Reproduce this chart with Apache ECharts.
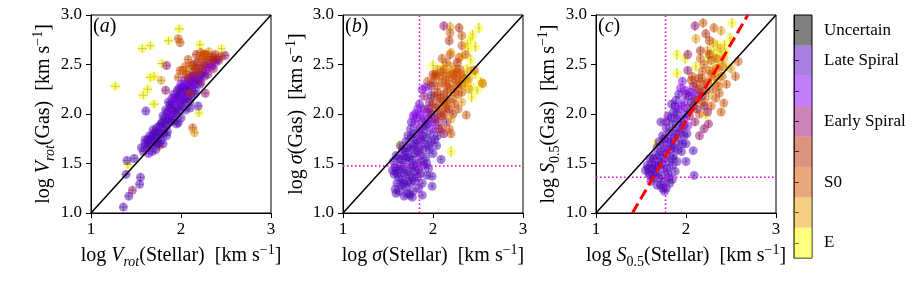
<!DOCTYPE html>
<html><head><meta charset="utf-8">
<script src="https://cdn.jsdelivr.net/npm/echarts@6/dist/echarts.min.js"></script>
<style>html,body{margin:0;padding:0;background:#fff}#c{width:913px;height:305px}</style>
</head><body><div id="c"></div>
<script>
// ---------- data ----------
const categories = ['E', '', 'S0', '', 'Early Spiral', '', 'Late Spiral', 'Uncertain'];
const baseColors = ['#fdfd01', '#eb9f09', '#d55100', '#b92901', '#990971', '#8100f1', '#5101c1', '#010101'];
const xTicks = [1, 2, 3];
const yTicks = [1.0, 1.5, 2.0, 2.5, 3.0];
const panelLabels = ['a', 'b', 'c'];
const vLineB = 1.85, hLineB = 1.475;
const vLineC = 1.773, hLineC = 1.36;
const fitLineC = [[1.405, 1.0], [2.687, 3.0]];
const oneToOne = [[1, 1], [3, 3]];

// [x, y, xerr, yerr, type]
const panelA = [
[1.98,2.86,.05,.04,0],[1.86,2.74,.05,.04,0],[1.57,2.66,.05,.04,0],[1.66,2.69,.05,.04,0],[2.21,2.70,.04,.04,0],[2.45,2.66,.04,.04,0],[1.79,2.51,.05,.04,0],[1.66,2.37,.05,.04,0],[1.70,2.38,.04,.04,0],[1.58,2.19,.05,.04,0],[1.63,2.25,.05,.04,0],[1.70,2.10,.05,.04,0],[1.27,2.28,.05,.04,0],[2.20,2.01,.04,.04,0],[1.41,1.49,.04,.04,0],[2.13,2.46,.04,.04,0],
[1.97,2.76,.04,.04,2],[1.99,2.72,.04,.04,2],[2.31,2.63,.04,.04,1],[2.17,2.60,.04,.04,3],[2.08,2.55,.04,.04,2],[1.99,2.44,.04,.04,2],[1.97,2.37,.04,.04,2],[1.78,2.34,.04,.04,1],[2.13,1.86,.04,.04,2],[2.15,1.81,.04,.04,1],[1.76,1.68,.04,.04,2],[2.27,2.55,.04,.04,1],[2.35,2.58,.04,.04,2],[2.05,2.48,.04,.04,2],[2.22,2.62,.04,.04,2],[2.26,2.60,.04,.04,3],[2.11,2.49,.04,.04,2],[2.06,2.43,.04,.04,1],
[1.84,2.49,.04,.04,4],[1.83,2.24,.04,.04,4],[2.49,2.59,.04,.04,4],[2.27,2.21,.04,.04,4],[1.46,1.23,.04,.04,4],
[1.36,1.06,.04,.04,6],[1.42,1.17,.04,.04,6],[1.54,1.29,.04,.04,6],[1.55,1.36,.04,.04,6],[1.39,1.39,.04,.04,6],[1.40,1.53,.04,.04,6],[1.48,1.55,.04,.04,6],[1.61,2.03,.04,.04,6],[2.19,2.08,.04,.04,6],[2.10,2.06,.03,.03,6],[1.97,1.91,.03,.03,6],
[1.56,1.66,.03,.03,6],[1.58,1.62,.03,.03,6],[1.60,1.70,.03,.03,6],[1.63,1.74,.03,.03,6],[1.66,1.68,.03,.03,6],[1.65,1.78,.03,.03,6],[1.68,1.78,.03,.03,6],[1.70,1.72,.03,.03,6],[1.70,1.80,.03,.03,6],[1.72,1.82,.03,.03,6],[1.74,1.76,.03,.03,6],[1.75,1.70,.03,.03,6],[1.76,1.88,.03,.03,6],[1.77,1.80,.03,.03,6],[1.79,1.92,.03,.03,6],[1.80,1.98,.03,.03,6],[1.81,1.84,.03,.03,6],[1.82,1.96,.03,.03,6],[1.84,1.88,.03,.03,6],[1.84,1.78,.03,.03,6],[1.85,2.02,.03,.03,6],[1.86,2.12,.03,.03,6],[1.87,1.94,.03,.03,6],[1.88,2.06,.03,.03,6],[1.90,1.98,.03,.03,6],[1.91,2.10,.03,.03,6],[1.92,2.20,.03,.03,6],[1.93,2.02,.03,.03,6],[1.94,2.14,.03,.03,6],[1.95,1.90,.03,.03,6],[1.96,2.06,.03,.03,6],[1.97,2.18,.03,.03,6],[1.98,2.26,.03,.03,6],[1.99,2.10,.03,.03,6],[2.00,2.22,.03,.03,6],[2.00,1.96,.03,.03,6],[2.02,2.14,.03,.03,6],[2.03,2.26,.03,.03,6],[2.05,2.18,.03,.03,6],[2.05,2.04,.03,.03,6],[2.06,2.30,.03,.03,6],[2.08,2.22,.03,.03,6],[2.10,2.34,.03,.03,6],[2.10,2.12,.03,.03,6],[2.12,2.26,.03,.03,6],[2.14,2.38,.03,.03,6],[2.15,2.20,.03,.03,6],[2.16,2.30,.03,.03,6],[2.20,2.36,.03,.03,6],[2.24,2.42,.03,.03,6],
[1.60,1.74,.03,.03,6],[1.62,1.66,.03,.03,6],[1.64,1.70,.03,.03,6],[1.67,1.74,.03,.03,6],[1.69,1.84,.03,.03,6],[1.71,1.76,.03,.03,6],[1.73,1.86,.03,.03,6],[1.73,1.70,.03,.03,6],[1.76,1.82,.03,.03,6],[1.78,1.74,.03,.03,6],[1.78,1.90,.03,.03,6],[1.80,1.80,.03,.03,6],[1.82,1.90,.03,.03,6],[1.83,2.04,.03,.03,6],[1.85,1.82,.03,.03,6],[1.86,1.96,.03,.03,6],[1.88,2.10,.03,.03,6],[1.89,1.92,.03,.03,6],[1.91,2.04,.03,.03,6],[1.92,1.94,.03,.03,6],[1.93,2.16,.03,.03,6],[1.95,2.00,.03,.03,6],[1.96,2.24,.03,.03,6],[1.98,2.04,.03,.03,6],[1.99,2.18,.03,.03,6],[2.01,2.08,.03,.03,6],[2.02,2.28,.03,.03,6],[2.04,2.12,.03,.03,6],[2.06,2.24,.03,.03,6],[2.07,2.16,.03,.03,6],[2.09,2.28,.03,.03,6],[2.11,2.18,.03,.03,6],[2.13,2.32,.03,.03,6],[2.16,2.24,.03,.03,6],[2.18,2.34,.03,.03,6],[2.21,2.30,.03,.03,6],[2.22,2.40,.03,.03,6],[2.26,2.38,.03,.03,6],[1.72,1.64,.03,.03,6],[1.80,1.70,.03,.03,6],[1.68,1.62,.03,.03,6],
[1.88,2.00,.03,.03,5],[1.90,2.16,.03,.03,5],[1.96,2.12,.03,.03,5],[2.00,2.30,.03,.03,5],[2.04,2.20,.03,.03,5],[2.12,2.30,.03,.03,5],[2.18,2.38,.03,.03,5],[2.28,2.44,.03,.03,5],[2.32,2.50,.03,.03,5],[2.38,2.52,.03,.03,5],[2.28,2.48,.03,.03,5],[2.34,2.48,.03,.03,5],[2.04,2.34,.03,.03,5],[1.64,1.60,.03,.03,5],
[2.08,2.36,.03,.03,4],[2.14,2.42,.03,.03,4],[2.20,2.46,.03,.03,4],[2.26,2.50,.03,.03,4],[2.30,2.40,.03,.03,4],[2.22,2.32,.03,.03,4],[2.36,2.46,.03,.03,4],[2.18,2.52,.03,.03,4],[2.40,2.55,.03,.03,4],[2.36,2.55,.03,.03,4],[2.42,2.54,.03,.03,4],[2.12,2.38,.03,.03,4],
[2.10,2.21,.03,.03,3],[2.16,2.46,.03,.03,3],[2.24,2.56,.03,.03,3],[2.06,2.40,.03,.03,3],[2.30,2.58,.03,.03,3],[2.44,2.58,.03,.03,3],[2.24,2.48,.03,.03,3],[2.19,2.42,.03,.03,3],[2.33,2.54,.03,.03,3],[2.14,2.50,.03,.03,3],[2.38,2.60,.03,.03,3],
[2.20,2.55,.03,.03,2],[2.28,2.60,.03,.03,2],[2.02,2.44,.03,.03,2],[2.25,2.60,.03,.03,2]
];

const panelB = [
[2.51,2.87,.015,.05,0],[2.44,2.80,.015,.05,0],[2.38,2.71,.015,.05,0],[2.42,2.76,.015,.05,0],[2.39,2.66,.015,.05,0],[2.47,2.68,.015,.05,0],[2.00,2.49,.015,.05,0],[2.11,2.47,.015,.05,0],[2.42,2.55,.015,.05,0],[2.53,2.33,.015,.04,0],[2.55,2.30,.015,.04,0],[2.43,2.17,.015,.05,0],[2.20,1.62,.015,.05,0],[1.63,1.69,.015,.04,0],[2.42,2.28,.015,.05,0],[2.36,2.28,.015,.04,0],[2.47,2.40,.015,.04,0],[2.38,2.46,.015,.04,0],[2.32,2.58,.015,.04,0],[2.49,2.24,.015,.04,0],
[2.19,2.88,.015,.05,1],[2.29,2.87,.015,.05,3],[2.19,2.82,.015,.05,2],[2.18,2.74,.015,.05,3],[2.32,2.79,.015,.05,2],[2.32,2.69,.015,.05,2],[2.29,2.57,.015,.05,2],[2.10,2.56,.015,.05,2],[2.19,2.60,.015,.05,3],[2.46,2.44,.015,.05,2],[2.55,2.31,.015,.04,2],[2.37,1.99,.015,.04,2],[2.07,2.38,.015,.04,2],[1.94,2.33,.015,.04,2],[2.23,2.41,.015,.04,3],[2.30,2.35,.015,.04,2],[2.20,2.62,.015,.04,1],[2.05,2.45,.015,.04,1],[2.12,2.89,.015,.05,4],
[1.59,1.20,.02,.03,6],[1.68,1.17,.02,.03,6],[1.77,1.16,.02,.03,6],[1.88,1.18,.02,.03,6],[1.84,1.25,.02,.03,6],[1.99,1.27,.02,.03,6],[1.99,1.37,.02,.03,6],[2.09,1.54,.02,.03,6],[1.57,1.39,.02,.03,6],[1.55,1.43,.02,.03,6],[1.74,1.18,.02,.03,6],
[1.60,1.30,.02,.03,6],[1.65,1.28,.02,.03,6],[1.70,1.26,.02,.03,6],[1.75,1.30,.02,.03,6],[1.80,1.32,.02,.03,6],[1.62,1.36,.02,.03,6],[1.68,1.40,.02,.03,6],[1.74,1.38,.02,.03,6],[1.80,1.42,.02,.03,6],[1.86,1.40,.02,.03,6],[1.58,1.46,.02,.03,6],[1.64,1.48,.02,.03,6],[1.70,1.50,.02,.03,6],[1.76,1.46,.02,.03,6],[1.82,1.50,.02,.03,6],[1.90,1.48,.02,.03,6],[1.95,1.45,.02,.03,6],[1.62,1.55,.02,.03,6],[1.68,1.58,.02,.03,6],[1.74,1.56,.02,.03,6],[1.80,1.60,.02,.03,6],[1.86,1.58,.02,.03,6],[1.92,1.56,.02,.03,6],[1.66,1.64,.02,.03,6],[1.72,1.66,.02,.03,6],[1.78,1.68,.02,.03,6],[1.84,1.66,.02,.03,6],[1.90,1.70,.02,.03,6],[1.96,1.64,.02,.03,6],[1.70,1.72,.02,.03,6],[1.76,1.76,.02,.03,6],[1.82,1.74,.02,.03,6],[1.88,1.78,.02,.03,6],[2.00,1.60,.02,.03,6],[2.04,1.68,.02,.03,6],[1.60,1.40,.02,.03,6],[1.66,1.34,.02,.03,6],[1.78,1.22,.02,.03,6],[1.72,1.20,.02,.03,6],[1.56,1.52,.02,.03,6],
[1.58,1.24,.02,.03,6],[1.63,1.22,.02,.03,6],[1.67,1.30,.02,.03,6],[1.72,1.32,.02,.03,6],[1.77,1.36,.02,.03,6],[1.83,1.36,.02,.03,6],[1.88,1.30,.02,.03,6],[1.93,1.38,.02,.03,6],[1.61,1.44,.02,.03,6],[1.66,1.44,.02,.03,6],[1.71,1.42,.02,.03,6],[1.78,1.48,.02,.03,6],[1.84,1.44,.02,.03,6],[1.87,1.52,.02,.03,6],[1.93,1.50,.02,.03,6],[1.59,1.58,.02,.03,6],[1.65,1.54,.02,.03,6],[1.71,1.56,.02,.03,6],[1.77,1.54,.02,.03,6],[1.83,1.62,.02,.03,6],[1.89,1.64,.02,.03,6],[1.95,1.68,.02,.03,6],[1.64,1.68,.02,.03,6],[1.69,1.62,.02,.03,6],[1.75,1.64,.02,.03,6],[1.80,1.70,.02,.03,6],[1.86,1.74,.02,.03,6],[1.92,1.76,.02,.03,6],[1.98,1.72,.02,.03,6],[1.72,1.78,.02,.03,6],[1.78,1.80,.02,.03,6],[1.84,1.82,.02,.03,6],[1.90,1.84,.02,.03,6],[1.97,1.80,.02,.03,6],[2.02,1.74,.02,.03,6],[1.76,1.92,.02,.03,6],[1.82,1.96,.02,.03,6],[1.88,1.92,.02,.03,6],[1.94,1.90,.02,.03,6],
[1.92,2.27,.02,.04,5],[1.88,2.25,.02,.04,5],[1.98,2.19,.02,.04,6],[1.85,2.10,.02,.04,6],[1.80,2.00,.02,.04,5],[1.90,2.05,.02,.04,6],[1.75,1.85,.02,.03,6],[1.80,1.90,.02,.03,5],[1.95,1.95,.02,.03,5],[1.85,1.85,.02,.03,5],[2.00,1.85,.02,.03,5],[2.05,1.78,.02,.03,6],[1.92,1.88,.02,.03,6],
[1.86,2.00,.02,.03,5],[1.90,1.96,.02,.03,5],[1.83,2.05,.02,.03,5],[1.96,2.02,.02,.03,5],[1.78,1.98,.02,.03,5],[2.00,1.92,.02,.03,5],
[1.95,2.05,.02,.04,4],[2.00,2.10,.02,.04,3],[2.05,2.00,.02,.04,4],[2.08,2.12,.02,.04,3],[2.12,2.00,.02,.04,3],[2.15,1.92,.02,.04,4],[2.10,1.85,.02,.04,3],[2.02,1.95,.02,.04,4],[2.18,2.05,.02,.04,3],[2.20,1.80,.02,.04,2],[2.05,2.22,.02,.04,3],[2.12,2.20,.02,.04,3],[1.98,2.28,.02,.04,4],[2.15,2.28,.02,.04,3],
[1.98,2.00,.02,.04,4],[2.03,2.06,.02,.04,3],[2.06,1.92,.02,.04,4],[2.10,1.98,.02,.04,3],[2.14,2.06,.02,.04,3],[2.08,2.16,.02,.04,3],[1.96,2.12,.02,.04,4],[2.02,2.18,.02,.04,3],[2.16,2.14,.02,.04,3],[2.22,2.00,.02,.04,3],[2.12,1.80,.02,.04,4],[2.06,1.85,.02,.04,4],[1.90,2.18,.02,.04,4],[2.00,2.32,.02,.04,3],
[2.10,2.32,.02,.04,2],[2.15,2.38,.02,.04,2],[2.20,2.25,.02,.04,2],[2.25,2.35,.02,.04,2],[2.28,2.20,.02,.04,2],[2.22,2.15,.02,.04,2],[2.32,2.30,.02,.04,2],[2.35,2.40,.02,.04,1],[2.38,2.35,.02,.04,1],[2.25,2.45,.02,.04,2],[2.18,2.42,.02,.04,1],[2.28,2.05,.02,.04,2],[2.32,2.12,.02,.04,1],[2.40,2.25,.02,.04,1],[2.15,2.10,.02,.04,2],[2.08,2.05,.02,.04,2],[2.26,2.28,.02,.04,2],[2.30,2.45,.02,.04,2],[2.12,2.45,.02,.04,2],[2.02,2.38,.02,.04,2],[2.20,1.95,.02,.04,1],[2.18,1.85,.02,.04,2],
[2.05,2.28,.02,.04,2],[2.14,2.34,.02,.04,2],[2.18,2.30,.02,.04,2],[2.22,2.36,.02,.04,2],[2.24,2.22,.02,.04,2],[2.28,2.30,.02,.04,2],[2.30,2.40,.02,.04,2],[2.34,2.36,.02,.04,2],[2.26,2.42,.02,.04,2],[2.20,2.40,.02,.04,2],[2.16,2.22,.02,.04,2],[2.12,2.12,.02,.04,2],[2.24,2.10,.02,.04,2],[2.32,2.22,.02,.04,2],[2.36,2.32,.02,.04,1],[2.40,2.36,.02,.04,1],[2.42,2.44,.02,.04,1],[2.10,2.42,.02,.04,2],[2.04,2.40,.02,.04,2],[2.20,2.48,.02,.04,1],[2.15,2.52,.02,.04,2],[2.27,2.52,.02,.04,3],[2.36,2.60,.02,.04,2],[2.00,2.40,.02,.04,3]
];

const panelC = [
[2.51,2.92,.015,.05,0],[2.49,2.77,.015,.05,0],[2.43,2.70,.015,.05,0],[1.90,2.60,.015,.05,0],[1.99,2.56,.015,.05,0],[1.90,2.41,.015,.05,0],[2.11,2.48,.015,.05,0],[2.25,2.56,.015,.05,0],[2.31,2.64,.015,.05,0],[2.22,1.99,.015,.04,0],[1.67,1.70,.015,.04,0],[2.36,2.50,.015,.04,0],[2.40,2.60,.015,.04,0],[2.30,2.45,.015,.04,0],[2.45,2.48,.015,.04,0],[2.28,2.34,.015,.04,0],[2.18,2.10,.015,.04,0],[2.33,2.58,.015,.04,0],[2.38,2.40,.015,.04,0],[2.44,2.62,.015,.04,0],[2.35,2.70,.015,.04,0],
[2.19,2.92,.015,.05,2],[2.31,2.87,.015,.05,2],[2.39,2.84,.015,.05,1],[2.11,2.76,.015,.05,1],[2.22,2.81,.015,.05,3],[2.26,2.74,.015,.05,3],[2.34,2.56,.015,.05,2],[2.40,2.48,.015,.05,2],[2.58,2.53,.015,.05,2],[2.55,2.38,.015,.05,2],[2.50,2.46,.015,.05,1],[2.39,2.02,.015,.04,2],[2.42,2.11,.015,.04,2],[2.37,2.21,.015,.04,2],[2.07,2.38,.015,.04,2],[2.18,2.43,.015,.04,2],[2.28,2.40,.015,.04,2],[2.20,2.30,.015,.04,3],[2.14,2.25,.015,.04,3],[2.30,2.25,.015,.04,2],[2.25,2.18,.015,.04,1],[2.35,2.32,.015,.04,1],[2.10,2.15,.015,.04,2],[2.05,2.05,.015,.04,2],[2.15,2.00,.015,.04,2],[2.45,2.30,.015,.04,2],[2.28,2.08,.015,.04,2],
[2.12,2.30,.015,.04,2],[2.18,2.36,.015,.04,2],[2.24,2.32,.015,.04,2],[2.26,2.44,.015,.04,2],[2.32,2.38,.015,.04,2],[2.34,2.46,.015,.04,2],[2.20,2.50,.015,.04,2],[2.28,2.54,.015,.04,2],[2.36,2.28,.015,.04,2],[2.40,2.38,.015,.04,2],[2.33,2.16,.015,.04,2],[2.20,2.12,.015,.04,2],[2.24,2.64,.015,.05,1],[2.30,2.72,.015,.05,1],[2.38,2.66,.015,.05,1],[2.42,2.56,.015,.05,1],[2.16,2.56,.015,.05,2],
[2.10,2.89,.015,.05,4],[2.02,2.60,.015,.05,4],[2.00,2.20,.015,.04,4],[2.08,2.28,.015,.04,4],[2.20,1.85,.015,.04,4],[2.25,1.90,.015,.04,4],[2.12,2.05,.015,.04,4],[2.15,1.78,.015,.04,4],
[2.04,1.98,.015,.04,4],[2.08,2.08,.015,.04,3],[2.12,2.14,.015,.04,3],[2.16,2.22,.015,.04,3],[2.06,2.34,.015,.04,3],[2.14,2.36,.015,.04,3],[2.18,2.18,.015,.04,4],[2.22,2.24,.015,.04,3],[2.10,1.92,.015,.04,4],[2.20,2.08,.015,.04,4],[2.24,2.02,.015,.04,4],[2.02,2.44,.015,.04,4],[2.26,2.60,.015,.05,3],[2.16,2.64,.015,.05,3],
[1.96,2.33,.015,.04,5],[1.92,2.20,.015,.04,6],[1.98,2.12,.015,.04,5],[2.03,2.18,.015,.04,6],[1.88,2.08,.015,.04,6],[2.08,1.63,.015,.03,6],[2.09,1.38,.015,.03,6],
[1.94,2.26,.015,.04,5],[1.99,2.24,.015,.04,5],[2.05,2.22,.015,.04,5],[1.95,2.08,.015,.04,5],[2.01,2.06,.015,.04,5],[2.06,2.12,.015,.04,6],[2.10,2.20,.015,.04,5],[1.89,2.14,.015,.04,6],[1.84,2.10,.015,.04,6],
[1.62,1.50,.015,.03,6],[1.65,1.42,.015,.03,6],[1.58,1.45,.015,.03,6],[1.60,1.55,.015,.03,6],[1.66,1.58,.015,.03,6],[1.70,1.52,.015,.03,6],[1.72,1.62,.015,.03,6],[1.68,1.66,.015,.03,6],[1.75,1.70,.015,.03,6],[1.78,1.60,.015,.03,6],[1.80,1.75,.015,.03,6],[1.74,1.78,.015,.03,6],[1.82,1.82,.015,.03,6],[1.78,1.86,.015,.03,6],[1.85,1.90,.015,.03,6],[1.88,1.80,.015,.03,6],[1.90,1.95,.015,.03,6],[1.84,1.68,.015,.03,6],[1.92,1.72,.015,.03,6],[1.86,1.58,.015,.03,6],[1.95,1.85,.015,.03,6],[1.98,1.78,.015,.03,6],[1.75,1.45,.015,.03,6],[1.80,1.40,.015,.03,6],[1.85,1.48,.015,.03,6],[1.70,1.35,.015,.03,6],[1.76,1.32,.015,.03,6],[1.82,1.30,.015,.03,6],[1.78,1.25,.015,.03,6],[1.68,1.28,.015,.03,6],[1.64,1.35,.015,.03,6],[1.90,1.52,.015,.03,6],[1.95,1.62,.015,.03,6],[2.00,1.70,.015,.03,6],[1.72,1.92,.015,.03,6],[1.80,1.98,.015,.03,6],[1.86,2.02,.015,.03,6],[1.92,2.05,.015,.03,5],[1.98,1.95,.015,.03,5],[2.02,1.88,.015,.03,5],[1.66,1.48,.015,.03,6],[1.60,1.38,.015,.03,6],[2.00,1.52,.015,.03,6],[1.88,1.42,.015,.03,6],[1.55,1.43,.015,.03,6],[1.74,1.25,.015,.03,6],
[1.57,1.48,.015,.03,6],[1.59,1.40,.015,.03,6],[1.61,1.32,.015,.03,6],[1.63,1.45,.015,.03,6],[1.64,1.55,.015,.03,6],[1.67,1.40,.015,.03,6],[1.69,1.47,.015,.03,6],[1.71,1.58,.015,.03,6],[1.73,1.38,.015,.03,6],[1.73,1.50,.015,.03,6],[1.76,1.55,.015,.03,6],[1.77,1.65,.015,.03,6],[1.79,1.45,.015,.03,6],[1.81,1.52,.015,.03,6],[1.82,1.64,.015,.03,6],[1.83,1.72,.015,.03,6],[1.85,1.55,.015,.03,6],[1.87,1.66,.015,.03,6],[1.87,1.76,.015,.03,6],[1.89,1.86,.015,.03,6],[1.91,1.64,.015,.03,6],[1.93,1.80,.015,.03,6],[1.94,1.92,.015,.03,6],[1.96,1.70,.015,.03,6],[1.97,1.88,.015,.03,6],[1.99,2.00,.015,.03,6],[2.01,1.80,.015,.03,6],[1.76,1.75,.015,.03,6],[1.70,1.72,.015,.03,6],[1.78,1.92,.015,.03,6],[1.84,1.96,.015,.03,6],[1.90,2.00,.015,.03,6],[1.81,1.36,.015,.03,6],[1.85,1.34,.015,.03,6],[1.72,1.28,.015,.03,6],[1.76,1.22,.015,.03,6]
];

// ---------- styling ----------
const FONT = 'Liberation Serif';
const rich = {
  n: {fontFamily: FONT, fontSize: 20, color: '#000', lineHeight: 26},
  i: {fontFamily: FONT, fontSize: 20, fontStyle: 'italic', color: '#000', lineHeight: 26},
  s: {fontFamily: FONT, fontSize: 14, color: '#000', lineHeight: 14, verticalAlign: 'bottom'},
  si: {fontFamily: FONT, fontSize: 14, fontStyle: 'italic', color: '#000', lineHeight: 14, verticalAlign: 'bottom'},
  p: {fontFamily: FONT, fontSize: 14, color: '#000', lineHeight: 14, verticalAlign: 'top'}
};
const unit = '{n|  [km s}{p|−1}{n|]}';
const xNames = ['{n|log }{i|V}{si|rot}{n|(Stellar)}' + unit, '{n|log }{i|σ}{n|(Stellar)}' + unit, '{n|log }{i|S}{s|0.5}{n|(Stellar)}' + unit];
const yNames = ['{n|log }{i|V}{si|rot}{n|(Gas)}' + unit, '{n|log }{i|σ}{n|(Gas)}' + unit, '{n|log }{i|S}{s|0.5}{n|(Gas)}' + unit];
const gridLefts = [91, 343, 596];

const grids = gridLefts.map(l => ({left: l, top: 15, width: 180, height: 198, show: true, borderColor: '#000', borderWidth: 1, backgroundColor: 'transparent'}));
grids.push({left: 794, top: 15, width: 18, height: 243, show: true, borderColor: '#000', borderWidth: 1, backgroundColor: 'transparent'});

const axisCommon = {
  axisLine: {show: true, onZero: false, lineStyle: {color: '#000', width: 1}},
  axisTick: {show: true, length: 5, lineStyle: {color: '#000', width: 1}},
  splitLine: {show: false}
};
const xAxes = gridLefts.map((l, k) => Object.assign({}, axisCommon, {
  gridIndex: k, type: 'value', min: xTicks[0], max: xTicks[xTicks.length - 1], interval: xTicks[1] - xTicks[0],
  name: xNames[k], nameLocation: 'middle', nameGap: 29, nameTextStyle: {rich},
  axisLabel: {color: '#000', fontFamily: FONT, fontSize: 17, margin: 8}
}));
const yAxes = gridLefts.map((l, k) => Object.assign({}, axisCommon, {
  gridIndex: k, type: 'value', min: yTicks[0], max: yTicks[yTicks.length - 1], interval: yTicks[1] - yTicks[0],
  name: yNames[k], nameLocation: 'middle', nameGap: 33, nameRotate: 90, nameTextStyle: {rich},
  axisLabel: {color: '#000', fontFamily: FONT, fontSize: 17, margin: 9, formatter: v => v.toFixed(1)}
}));
xAxes.push({gridIndex: 3, type: 'value', min: 0, max: 1, show: false});
yAxes.push({gridIndex: 3, type: 'category', data: categories, position: 'right', boundaryGap: true,
  axisLine: {show: true, lineStyle: {color: '#000'}},
  axisTick: {show: true, alignWithLabel: true, interval: 0, length: 5, lineStyle: {color: '#000'}},
  axisLabel: {interval: 0, color: '#000', fontFamily: FONT, fontSize: 17, margin: 12},
  splitLine: {show: false}});

function errRender(params, api) {
  const x = api.value(0), y = api.value(1), xe = api.value(2), ye = api.value(3);
  const a = api.coord([x - xe, y]), b = api.coord([x + xe, y]);
  const c = api.coord([x, y - ye]), d = api.coord([x, y + ye]);
  const st = {stroke: 'rgba(120,120,120,0.75)', lineWidth: 1};
  return {type: 'group', children: [
    {type: 'line', shape: {x1: a[0], y1: a[1], x2: b[0], y2: b[1]}, style: st},
    {type: 'line', shape: {x1: c[0], y1: c[1], x2: d[0], y2: d[1]}, style: st}
  ]};
}

const series = [];
[panelA, panelB, panelC].forEach((data, k) => {
  series.push({type: 'custom', xAxisIndex: k, yAxisIndex: k, data, renderItem: errRender, encode: {x: 0, y: 1}, clip: true, z: 2, silent: true});
  series.push({type: 'scatter', xAxisIndex: k, yAxisIndex: k, data, encode: {x: 0, y: 1}, symbolSize: 9, z: 3, clip: true,
    itemStyle: {color: p => baseColors[p.value[4]], opacity: 0.5}});
  series.push({type: 'line', xAxisIndex: k, yAxisIndex: k, data: oneToOne, symbol: 'none', z: 5,
    lineStyle: {color: '#000', width: 1.5}});
});
const magenta = {color: '#ee00ee', width: 1.5, type: [1.5, 2.5]};
series.push({type: 'line', xAxisIndex: 1, yAxisIndex: 1, data: [[vLineB, 1], [vLineB, 3]], symbol: 'none', z: 4, lineStyle: magenta});
series.push({type: 'line', xAxisIndex: 1, yAxisIndex: 1, data: [[1, hLineB], [3, hLineB]], symbol: 'none', z: 4, lineStyle: magenta});
series.push({type: 'line', xAxisIndex: 2, yAxisIndex: 2, data: [[vLineC, 1], [vLineC, 3]], symbol: 'none', z: 4, lineStyle: magenta});
series.push({type: 'line', xAxisIndex: 2, yAxisIndex: 2, data: [[1, hLineC], [3, hLineC]], symbol: 'none', z: 4, lineStyle: magenta});
series.push({type: 'line', xAxisIndex: 2, yAxisIndex: 2, data: fitLineC, symbol: 'none', z: 6,
  lineStyle: {color: '#ff0000', width: 3, type: [11, 5]}});
series.push({type: 'bar', xAxisIndex: 3, yAxisIndex: 3, barWidth: '100%', barCategoryGap: '0%',
  data: categories.map((c, i) => ({value: 1, itemStyle: {color: baseColors[i], opacity: 0.5}})), silent: true});

const titles = panelLabels.map((t, k) => ({
  text: '{n|(}{i|' + t + '}{n|)}', left: gridLefts[k] + 2, top: 17, padding: 0,
  textStyle: {fontWeight: 'normal', rich: {n: {fontFamily: FONT, fontSize: 20, fontWeight: 'normal', color: '#000'}, i: {fontFamily: FONT, fontSize: 20, fontStyle: 'italic', fontWeight: 'normal', color: '#000'}}}
}));

const chart = echarts.init(document.getElementById('c'), null, {renderer: 'canvas'});
chart.setOption({animation: false, backgroundColor: '#fff', title: titles, grid: grids, xAxis: xAxes, yAxis: yAxes, series});
</script></body></html>
